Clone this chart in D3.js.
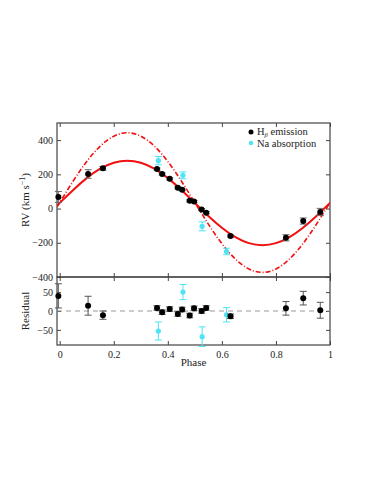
<!DOCTYPE html>
<html>
<head>
<meta charset="utf-8">
<script src="https://cdn.jsdelivr.net/npm/d3@7"></script>
<style>
  body { margin: 0; background: #fff; }
  svg text { font-family: "Liberation Serif", "DejaVu Serif", serif; fill: #222; }
</style>
</head>
<body>
<div id="chart"></div>
<script>
// H-beta emission
var hbPhase = [-0.005, 0.105, 0.16, 0.36, 0.379, 0.407, 0.437, 0.453, 0.481, 0.497, 0.525, 0.542, 0.632, 0.837, 0.901, 0.964];
var hbRV    = [68, 202, 235, 231, 202, 174, 121, 110, 45, 41, -6, -24, -161, -171, -73, -20];
var hbErr   = [32, 25, 11, 6, 6, 6, 6, 6, 6, 6, 6, 6, 6, 18, 18, 21];
var hbRes   = [40, 14, -11, 8, -3, 5, -8, 4, -12, 7, 0, 8, -14, 7, 34, 2];

// Na absorption
var naPhase = [0.365, 0.456, 0.527, 0.617];
var naRV    = [280, 194, -104, -251];
var naErr   = [24, 20, 26, 19];
var naRes   = [-53, 50, -68, -10];

// model curves
var curvePhase = [-0.01, 0, 0.05, 0.1, 0.15, 0.2, 0.25, 0.3, 0.35, 0.4, 0.45, 0.5, 0.55, 0.6, 0.65, 0.7, 0.75, 0.8, 0.85, 0.9, 0.95, 1];
var fitHb = [17, 33, 109, 178, 233, 268, 280, 268, 233, 178, 109, 33, -43, -112, -167, -202, -214, -202, -167, -112, -43, 33];
var fitNa = [9, 35, 161, 275, 365, 423, 443, 423, 365, 275, 161, 35, -91, -205, -295, -353, -373, -353, -295, -205, -91, 35];

var xTicks = [0, 0.2, 0.4, 0.6, 0.8, 1];
var rvTicks = [-400, -200, 0, 200, 400];
var resTicks = [-50, 0, 50];

var width = 374, height = 484;
var left = 57, right = 330;
var topY = 123, midY = 277, botY = 345;

var svg = d3.select("#chart").append("svg")
  .attr("width", width)
  .attr("height", height);

var x = d3.scaleLinear().domain([-0.01, 1]).range([left, right]);
var yRV = d3.scaleLinear().domain([-400, 500]).range([midY, topY]);
var yRes = d3.scaleLinear().domain([-90, 90]).range([botY, midY]);

var frameColor = "#444";
var tickLen = 4;
var fmt = function(d) { return d < 0 ? "\u2212" + Math.abs(d) : String(d); };

function drawFrame(y, ticks, y0, y1, showX) {
  var g = svg.append("g");
  // left and right ticks
  g.append("g").attr("transform", "translate(" + left + ",0)")
    .call(d3.axisLeft(y).tickValues(ticks).tickSize(-tickLen).tickPadding(4).tickFormat(fmt))
    .call(function(a) { a.select(".domain").remove(); });
  g.append("g").attr("transform", "translate(" + right + ",0)")
    .call(d3.axisRight(y).tickValues(ticks).tickSize(-tickLen).tickFormat(""))
    .call(function(a) { a.select(".domain").remove(); });
  g.append("g").attr("transform", "translate(0," + y0 + ")")
    .call(d3.axisTop(x).tickValues(xTicks).tickSize(-tickLen).tickFormat(""))
    .call(function(a) { a.select(".domain").remove(); });
  g.append("g").attr("transform", "translate(0," + y1 + ")")
    .call(d3.axisBottom(x).tickValues(xTicks).tickSize(-tickLen).tickPadding(6)
      .tickFormat(showX ? function(d) { return String(d); } : ""))
    .call(function(a) { a.select(".domain").remove(); });
  g.selectAll(".tick line").attr("stroke", frameColor);
  g.selectAll(".tick text").style("font-size", "10px").attr("fill", "#222")
    .style("font-family", "'Liberation Serif', serif");
  g.append("rect")
    .attr("x", left).attr("y", y0)
    .attr("width", right - left).attr("height", y1 - y0)
    .attr("fill", "none").attr("stroke", frameColor).attr("stroke-width", 1.2);
}

drawFrame(yRV, rvTicks, topY, midY, false);
drawFrame(yRes, resTicks, midY, botY, true);

// clip for the top panel curves
svg.append("clipPath").attr("id", "clipTop")
  .append("rect").attr("x", left).attr("y", topY).attr("width", right - left).attr("height", midY - topY);

var line = function(vals) {
  return d3.line()
    .x(function(d, i) { return x(curvePhase[i]); })
    .y(function(d) { return yRV(d); })
    .curve(d3.curveNatural)(vals);
};

svg.append("path").attr("d", line(fitNa))
  .attr("clip-path", "url(#clipTop)")
  .attr("fill", "none").attr("stroke", "#f01010").attr("stroke-width", 1.6)
  .attr("stroke-dasharray", "5,2,1,2");
svg.append("path").attr("d", line(fitHb))
  .attr("clip-path", "url(#clipTop)")
  .attr("fill", "none").attr("stroke", "#f01010").attr("stroke-width", 2);

// zero line in residual panel
svg.append("line")
  .attr("x1", left).attr("x2", right)
  .attr("y1", yRes(0)).attr("y2", yRes(0))
  .attr("stroke", "#999").attr("stroke-width", 1).attr("stroke-dasharray", "5,4");

var cyan = "#4fe3f5";

function points(phases, vals, errs, y, color, barColor, r) {
  var g = svg.append("g");
  var d = phases.map(function(p, i) { return { p: p, v: vals[i], e: errs[i] }; });
  var eb = g.selectAll(".eb").data(d).enter().append("g");
  eb.append("line")
    .attr("x1", function(d) { return x(d.p); }).attr("x2", function(d) { return x(d.p); })
    .attr("y1", function(d) { return y(d.v - d.e); }).attr("y2", function(d) { return y(d.v + d.e); })
    .attr("stroke", barColor).attr("stroke-width", 1);
  [-1, 1].forEach(function(s) {
    eb.append("line")
      .attr("x1", function(d) { return x(d.p) - 3.5; }).attr("x2", function(d) { return x(d.p) + 3.5; })
      .attr("y1", function(d) { return y(d.v + s * d.e); }).attr("y2", function(d) { return y(d.v + s * d.e); })
      .attr("stroke", barColor).attr("stroke-width", 1);
  });
  g.selectAll("circle").data(d).enter().append("circle")
    .attr("cx", function(d) { return x(d.p); })
    .attr("cy", function(d) { return y(d.v); })
    .attr("r", r).attr("fill", color);
}

points(naPhase, naRV, naErr, yRV, cyan, cyan, 2.6);
points(hbPhase, hbRV, hbErr, yRV, "#000", "#666", 3);
points(naPhase, naRes, naErr, yRes, cyan, cyan, 2.6);
points(hbPhase, hbRes, hbErr, yRes, "#000", "#555", 3);

// legend
var leg = svg.append("g");
leg.append("circle").attr("cx", 251).attr("cy", 132).attr("r", 2.5).attr("fill", "#000");
leg.append("circle").attr("cx", 251).attr("cy", 143).attr("r", 2.3).attr("fill", cyan);
var t1 = leg.append("text").attr("x", 257).attr("y", 135).style("font-size", "10.5px");
t1.append("tspan").text("H");
t1.append("tspan").attr("dy", 1.5).style("font-size", "6.5px").style("font-style", "italic").text("\u03b2");
t1.append("tspan").attr("dy", -1.5).text(" emission");
leg.append("text").attr("x", 257).attr("y", 147).style("font-size", "10.5px").text("Na absorption");

// axis labels
var yl = svg.append("text")
  .attr("transform", "translate(29," + ((topY + midY) / 2) + ") rotate(-90)")
  .attr("text-anchor", "middle").style("font-size", "11px");
yl.append("tspan").text("RV (km s");
yl.append("tspan").attr("dy", -4).style("font-size", "8px").text("\u22121");
yl.append("tspan").attr("dy", 4).text(")");

svg.append("text")
  .attr("transform", "translate(29," + ((midY + botY) / 2) + ") rotate(-90)")
  .attr("text-anchor", "middle").style("font-size", "11px").text("Residual");

svg.append("text").attr("x", (left + right) / 2).attr("y", 366)
  .attr("text-anchor", "middle").style("font-size", "11px").text("Phase");
</script>
</body>
</html>
